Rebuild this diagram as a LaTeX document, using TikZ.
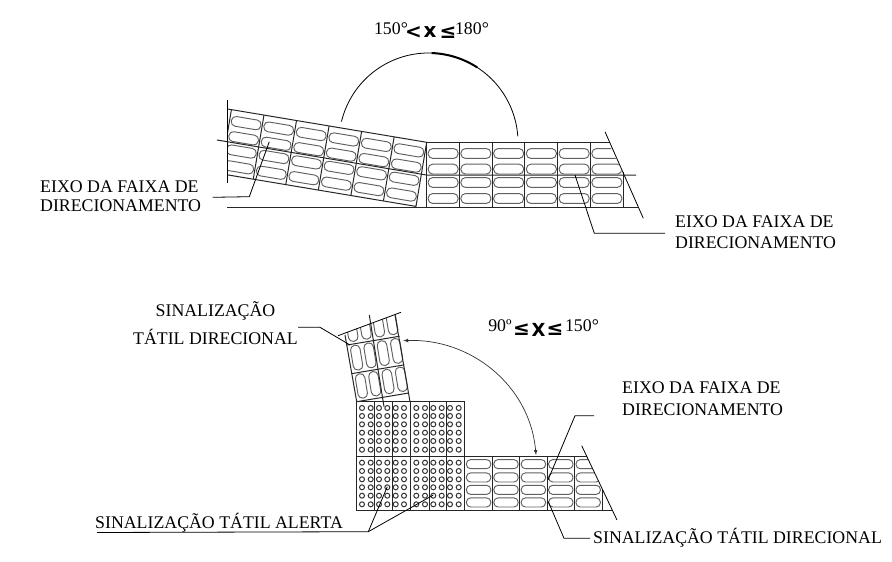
\documentclass[tikz,border=0pt]{standalone}
\usepackage{fontspec}
\setmainfont{Liberation Serif}
\newfontfamily\simbfont{DejaVu Sans}
\usetikzlibrary{arrows}

\begin{document}
\begin{tikzpicture}[>=latex, x=1pt, y=-1pt,
    griglia/.style={line width=1pt, black!85},
    pill/.style={line width=0.95pt, black!62, rounded corners=4.4pt},
    linea/.style={line width=0.8pt, black},
    testo/.style={font=\fontsize{17.8}{19}\selectfont, inner sep=0pt, align=left},
    simb/.style={font=\simbfont\bfseries\fontsize{20}{20}\selectfont, inner sep=0pt}]
    \useasboundingbox (0,0) rectangle (892,562);

    % Etichetta angolo superiore
    \node[testo] (ang1) at (391,29) {150°};
    \node[simb] (ang1a) at (413.5,33) {<};
    \node[simb] (ang1b) at (430,32) {x};
    \node[simb] (ang1c) at (448,33) {≤};
    \node[testo] (ang1d) at (472,29) {180°};

    % Arco superiore
    \draw[linea] plot[domain=4:166.5,samples=80] ({428.5+89.5*cos(\x)},{142.5-89.5*sin(\x)});
    \draw[line width=2pt] plot[domain=57:88,samples=30] ({428.5+89.5*cos(\x)},{142.5-89.5*sin(\x)});

    % Tratto inclinato superiore
    \begin{scope}
        \clip (227,90) rectangle (440,215);
        \begin{scope}[shift={(426.7,142.3)}, rotate=-9.5]
            \draw[griglia] (-210,0) -- (0,0) -- (-0,65) -- (-210,65);
            \foreach \i in {1,...,6} {
                \draw[griglia] ({-33*\i},0) -- ({-33*\i},65);
                \foreach \y/\yy in {6/15.8,21.4/31.2,34.8/44.6,50.8/60.6} {
                    \draw[pill] ({-33*\i+1.8},\y) rectangle ({-33*\i+31.7},\yy);
                }
            }
        \end{scope}
    \end{scope}
    \draw[linea] (227,100) -- (227,183);

    % Tratto diritto superiore
    \begin{scope}
        \clip (420,135) -- (605,135) -- (643.3,218.3) -- (420,218.3) -- cycle;
        \foreach \i in {0,...,5} {
            \foreach \y/\yy in {148.6/158.4,164.2/174,177.6/187.4,193.6/203.4} {
                \draw[pill] ({426.4+32.75*\i+1.8},\y) rectangle ({426.4+32.75*\i+31.7},\yy);
            }
        }
    \end{scope}
    \foreach \x in {426.4,459.2,492,524.7,557.4,590.2} {
        \draw[griglia] (\x,142.7) -- (\x,207.7);
    }
    \draw[griglia] (623,172.4) -- (623,207.7);
    \draw[griglia] (426.4,142.7) -- (610,142.7);
    \draw[griglia] (227,207.7) -- (638.6,207.7);
    \draw[linea] (605,131.7) -- (643.3,218.3);

    % Assi della faixa
    \coordinate (asseA) at (217,140);
    \coordinate (asseB) at (426.4,175);
    \coordinate (asseC) at (636,175);
    \draw[griglia] (asseA) -- (asseB) -- (asseC);

    % Testi e richiami superiori
    \node[testo, anchor=west] (eixoA) at (40,196) {EIXO DA FAIXA DE\\DIRECIONAMENTO};
    \node[testo, anchor=west] (eixoB) at (675,232.5) {EIXO DA FAIXA DE\\[2pt]DIRECIONAMENTO};
    \draw[linea] (212.7,197.3) -- (249.3,196.7) -- (269.3,141.7);
    \draw[linea] (575,175) -- (594.3,233.3) -- (665,233.3);

    % Etichetta angolo inferiore
    \node[testo] (ang2) at (500,326) {90º};
    \node[simb] (ang2a) at (521.5,330) {≤};
    \node[simb, font=\simbfont\bfseries\fontsize{18}{18}\selectfont] (ang2b) at (538.5,330) {X};
    \node[simb] (ang2c) at (555,330) {≤};
    \node[testo] (ang2d) at (582,326) {150°};

    % Arco inferiore con frecce
    \draw[<->,line width=0.7pt,black!80] (403.3,340.7) .. controls (470,338) and (530,385) .. (536,455);

    % Tratto inclinato inferiore
    \begin{scope}
        \clip (338,335.7) -- (401,312.3) -- (420,312) -- (420,410) -- (340,410) -- cycle;
        \begin{scope}[shift={(356.7,401.7)}, rotate=9.5]
            \foreach \i in {0,...,3} {
                \foreach \y/\yy in {-27/-2.5,-56/-31,-85/-60} {
                    \draw[pill] ({2.5+13.5*\i},\y) rectangle ({12+13.5*\i},\yy);
                }
            }
            \draw[griglia] (0,0) -- (52.5,0);
            \draw[griglia] (0,-28.5) -- (53,-28.5);
            \draw[griglia] (0,-57.5) -- (53,-57.5);
        \end{scope}
    \end{scope}
    \draw[griglia] (345,335) -- (356.7,401.7);
    \draw[griglia] (369.3,315) -- (384,406.7);
    \draw[griglia] (395,315) -- (410,401.7);
    \draw[linea] (338,335.7) -- (401,312.3);

    % Sinalizzazione di allerta
    \foreach \x in {362,370.7,379,387.3,395.7,404,416.3,425,433.3,441.7,450,458.7} {
        \foreach \y in {408,416,424.3,432.7,441,449.7,462.7,471,479.3,487.3,495.7,504.3} {
            \draw[line width=1pt,black!80] (\x,\y) circle (2.5pt);
        }
    }
    \foreach \x in {356,374.7,392,410.3,429.3,446.3,464.3} {
        \draw[griglia] (\x,401) -- (\x,510.7);
    }
    \draw[griglia] (356,401) -- (464.3,401);
    \draw[griglia] (356,456) -- (586.6,456);
    \draw[griglia] (356,510.7) -- (612.6,510.7);

    % Tratto diritto inferiore
    \begin{scope}
        \clip (460,445.7) -- (581.7,445.7) -- (617,520) -- (460,520) -- cycle;
        \foreach \i in {0,...,4} {
            \foreach \y/\yy in {459.6/468.7,472.9/482,485.3/494.4,497.9/507} {
                \draw[pill, rounded corners=4.2pt] ({464.6+27.4*\i+1.8},\y) rectangle ({464.6+27.4*\i+26.2},\yy);
            }
        }
    \end{scope}
    \foreach \x in {492.7,519.7,547,574.3} {
        \draw[griglia] (\x,456) -- (\x,510.7);
    }
    \draw[griglia] (602,488.5) -- (602,510.7);
    \draw[linea] (581.7,445.7) -- (617,520);

    % Testi e richiami inferiori
    \node[testo, align=center] (dirA) at (215.5,323.5) {SINALIZAÇÃO\\[8pt]TÁTIL DIRECIONAL};
    \node[testo, anchor=west] (eixoC) at (622,399) {EIXO DA FAIXA DE\\[3pt]DIRECIONAMENTO};
    \node[testo, anchor=west] (alerta) at (95,523) {SINALIZAÇÃO TÁTIL ALERTA};
    \node[testo, anchor=west] (dirB) at (593,538) {SINALIZAÇÃO TÁTIL DIRECIONAL};
    \draw[linea] (298,327.3) -- (320,327.3) -- (350,345);
    \draw[linea] (594,415.7) -- (575,415.7) -- (548,480);
    \draw[linea] (548.3,501.7) -- (564,538.3) -- (590,538.3);
    \draw[linea] (97,532.5) -- (368.3,531.7) -- (387.3,486.7);
    \draw[linea] (368.3,531.7) -- (433.3,495);
\end{tikzpicture}
\end{document}
